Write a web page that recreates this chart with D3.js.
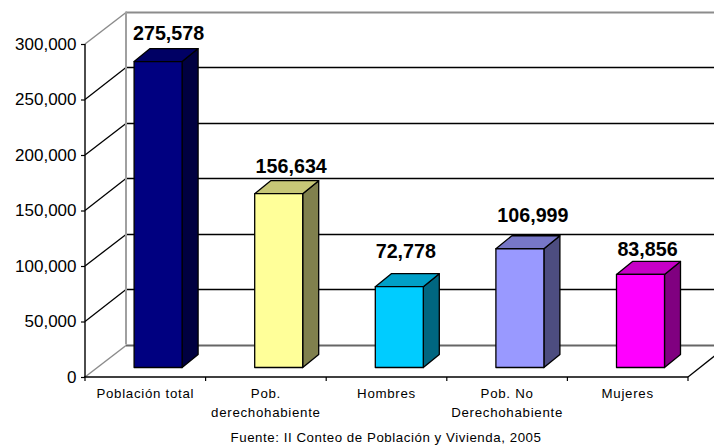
<!DOCTYPE html>
<html>
<head>
<meta charset="utf-8">
<script src="https://cdn.jsdelivr.net/npm/d3@7"></script>
<style>
html,body{margin:0;padding:0;background:#fff;overflow:hidden}
svg{display:block}
text{font-family:"Liberation Sans",Arial,sans-serif;fill:#000}
</style>
</head>
<body>
<svg id="chart" width="714" height="446"></svg>
<script>
const categories = [["Población total"],["Pob.","derechohabiente"],["Hombres"],["Pob. No","Derechohabiente"],["Mujeres"]];
const values = [275578,156634,72778,106999,83856];
const yTicks = [0,50000,100000,150000,200000,250000,300000];
const barColors = ["#000080","#FFFF99","#00CCFF","#9999FF","#FF00FF"];
const sourceNote = "Fuente: II Conteo de Población y Vivienda, 2005";

const svg = d3.select("#chart");
const W = 714, y0 = 377, yTop = 44, xL = 85, xR = 688;
const depth = {x:41, y:-32.5};
const barD = {x:16, y:-13};
const barOff = {x:13, y:-9.5};
const barW = 48;
const y = d3.scaleLinear().domain([0,300000]).range([y0,yTop]);
const x = d3.scaleBand().domain(d3.range(categories.length)).range([xL,xR]);
const fmt = d3.format(",");
const gray = "#8c8c8c";

// walls
const walls = svg.append("g");
yTicks.forEach(t=>{
  const edge = t===0 || t===300000;
  const c = edge ? gray : "#000";
  const yy = y(t);
  const back = Math.round(yy+depth.y)+0.5;
  walls.append("line").attr("x1",xL).attr("y1",yy).attr("x2",xL+depth.x).attr("y2",back)
    .attr("stroke",c).attr("stroke-width",edge?1.5:1.3);
  walls.append("line").attr("x1",xL+depth.x).attr("y1",back).attr("x2",W).attr("y2",back)
    .attr("stroke",t===0?"#666":(edge?gray:"#000")).attr("stroke-width",edge?1.8:1.4);
});
walls.append("line").attr("x1",xL+depth.x).attr("x2",xL+depth.x)
  .attr("y1",yTop+depth.y).attr("y2",y0+depth.y).attr("stroke","#a0a0a0").attr("stroke-width",2);
// floor right edge
walls.append("line").attr("x1",xR).attr("y1",y0).attr("x2",xR+depth.x).attr("y2",y0+depth.y)
  .attr("stroke","#000").attr("stroke-width",1.3);

// bars
const bars = svg.append("g").selectAll("g").data(values).join("g")
  .attr("stroke","#000").attr("stroke-width",1.3).attr("stroke-linejoin","round");
const geom = (d,i)=>{
  const l = x(i)+x.bandwidth()/2+barOff.x-barW/2-0.2, r = l+barW;
  const b = y0+barOff.y, t = y(d)+barOff.y;
  return {l,r,b,t};
};
bars.append("path").attr("fill",(d,i)=>shade(barColors[i],.5)).attr("d",(d,i)=>{
  const g=geom(d,i);
  return `M${g.r},${g.t}L${g.r+barD.x},${g.t+barD.y}L${g.r+barD.x},${g.b+barD.y}L${g.r},${g.b}Z`;
});
bars.append("path").attr("fill",(d,i)=>shade(barColors[i],.78)).attr("d",(d,i)=>{
  const g=geom(d,i);
  return `M${g.l},${g.t}L${g.l+barD.x},${g.t+barD.y}L${g.r+barD.x},${g.t+barD.y}L${g.r},${g.t}Z`;
});
bars.append("rect").attr("fill",(d,i)=>barColors[i])
  .attr("x",(d,i)=>geom(d,i).l).attr("y",(d,i)=>geom(d,i).t)
  .attr("width",barW).attr("height",(d,i)=>geom(d,i).b-geom(d,i).t);
function shade(c,k){const q=d3.rgb(c);return d3.rgb(q.r*k,q.g*k,q.b*k).formatHex();}

// axes
const yAxis = svg.append("g").attr("transform",`translate(${xL},0)`)
  .call(d3.axisLeft(y).tickValues(yTicks).tickFormat(fmt).tickSize(4).tickPadding(4.5));
yAxis.select(".domain").attr("stroke","#000").attr("stroke-width",1.4).attr("d",`M0,${yTop}V${y0}`);
yAxis.selectAll(".tick line").attr("stroke","#000").attr("stroke-width",1.2);
yAxis.selectAll("text").style("font-size","17px").style("font-family",'"Liberation Sans"');

const edges = d3.range(categories.length+1).map(i=>xL+i*x.bandwidth());
svg.append("line").attr("x1",xL-1).attr("x2",xR).attr("y1",y0).attr("y2",y0).attr("stroke","#000").attr("stroke-width",1.6);
svg.append("g").selectAll("line").data(edges).join("line")
  .attr("x1",d=>d).attr("x2",d=>d).attr("y1",y0).attr("y2",y0+4).attr("stroke","#000").attr("stroke-width",1.2);

// category labels
const catG = svg.append("g").selectAll("text").data(categories).join("text")
  .attr("text-anchor","middle").style("font-size","13.3px").style("letter-spacing","0.7px");
catG.selectAll("tspan").data((d,i)=>d.map(s=>({s,i}))).join("tspan")
  .attr("x",d=>x(d.i)+x.bandwidth()/2).attr("y",(d,j)=>398+j*19).text(d=>d.s);

// value labels (hand-placed in the source)
const labelLift = [8.5,7.6,15.7,13.7,5.4];
const labelNudge = [10.5,12.5,6.5,13,7];
svg.append("g").selectAll("text").data(values).join("text")
  .attr("text-anchor","middle").style("font-size","19.7px").style("font-weight","bold")
  .attr("x",(d,i)=>geom(d,i).l+barW/2+labelNudge[i])
  .attr("y",(d,i)=>geom(d,i).t+barD.y-labelLift[i]).text(fmt);

svg.append("text").attr("x",386).attr("y",441.5).attr("text-anchor","middle")
  .style("font-size","13.3px").style("letter-spacing","0.55px").text(sourceNote);
</script>
</body>
</html>
